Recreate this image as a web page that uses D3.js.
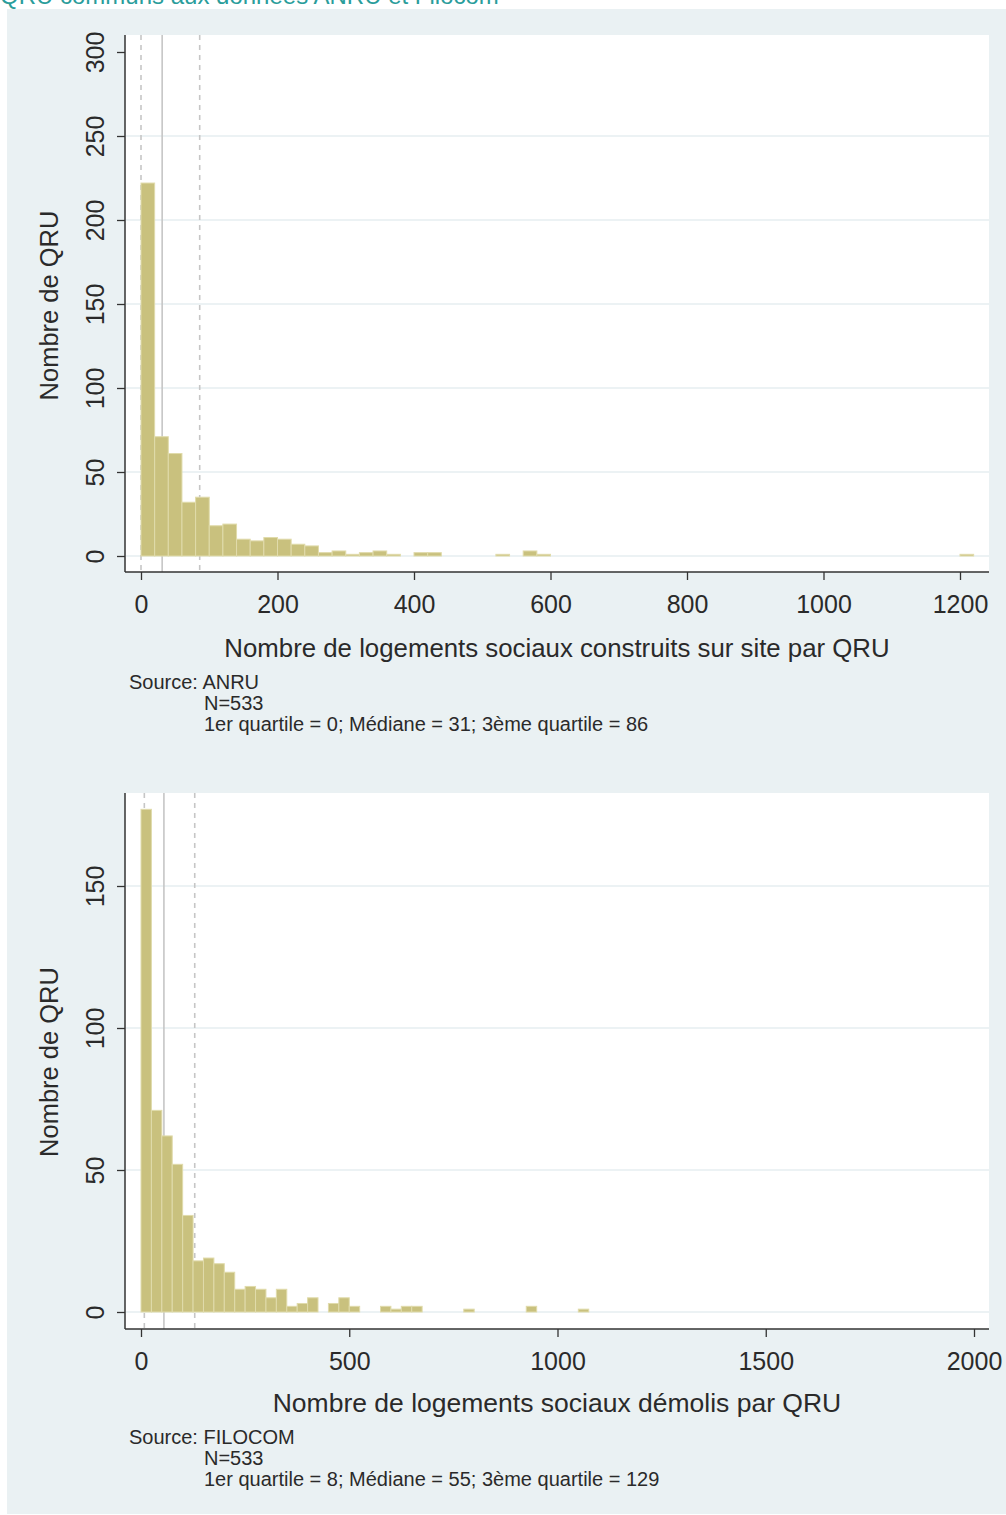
<!DOCTYPE html>
<html>
<head>
<meta charset="utf-8">
<script src="https://cdn.jsdelivr.net/npm/d3@7"></script>
<style>
  html, body { margin: 0; padding: 0; background: #ffffff; }
  svg { display: block; }
  text { font-family: "Liberation Sans", Arial, Helvetica, sans-serif; }
</style>
</head>
<body>
<svg id="chart" width="1006" height="1515"></svg>
<script>
// ---------- DATA ----------
const pageTitle = "QRU communs aux données ANRU et Filocom";

// Panel 1 : logements sociaux construits (bins of 20)
const topBinWidth = 20;
const topCounts = [222, 71, 61, 32, 35, 18, 19, 10, 9, 11,
                   10, 7, 6, 2, 3, 1, 2, 3, 1, 0,
                   2, 2, 0, 0, 0, 0, 1, 0, 3, 1,
                   0, 0, 0, 0, 0, 0, 0, 0, 0, 0,
                   0, 0, 0, 0, 0, 0, 0, 0, 0, 0,
                   0, 0, 0, 0, 0, 0, 0, 0, 0, 0,
                   1];
const topXTicks = [0, 200, 400, 600, 800, 1000, 1200];
const topYTicks = [0, 50, 100, 150, 200, 250, 300];
const topQuartiles = [0, 31, 86];   // Q1, median, Q3
const topXTitle = "Nombre de logements sociaux construits sur site par QRU";
const topNotes = ["Source: ANRU", "N=533", "1er quartile = 0; Médiane = 31; 3ème quartile = 86"];

// Panel 2 : logements sociaux démolis (bins of 25)
const botBinWidth = 25;
const botCounts = [177, 71, 62, 52, 34, 18, 19, 17, 14, 8,
                   9, 8, 5, 8, 2, 3, 5, 0, 3, 5,
                   2, 0, 0, 2, 1, 2, 2, 0, 0, 0,
                   0, 1, 0, 0, 0, 0, 0, 2, 0, 0,
                   0, 0, 1];
const botXTicks = [0, 500, 1000, 1500, 2000];
const botYTicks = [0, 50, 100, 150];
const botQuartiles = [8, 55, 129];
const botXTitle = "Nombre de logements sociaux démolis par QRU";
const botNotes = ["Source: FILOCOM", "N=533", "1er quartile = 8; Médiane = 55; 3ème quartile = 129"];

const yTitle = "Nombre de QRU";

// ---------- STYLE ----------
const C = {
  outer: "#eaf1f3",
  plot: "#ffffff",
  grid: "#e6eef1",
  bar: "#c9c17e",
  barStroke: "#e0dbab",
  ref: "#c6c6c6",
  axis: "#333333",
  text: "#2a2a2a",
  title: "#2a9d9b"
};

const svg = d3.select("#chart");

// page title (cut at top, as in the source)
svg.append("text").attr("x", 0).attr("y", 4)
  .attr("font-size", 24).attr("fill", C.title).text(pageTitle);

// outer background
svg.append("rect").attr("x", 7).attr("y", 9).attr("width", 999).attr("height", 1505)
  .attr("fill", C.outer);

function panel(cfg) {
  const g = svg.append("g");
  const x = d3.scaleLinear().domain(cfg.xDomain).range(cfg.xRange);
  const y = d3.scaleLinear().domain(cfg.yDomain).range(cfg.yRange);
  const L = cfg.plotLeft, R = cfg.plotRight, T = cfg.plotTop, B = cfg.plotBottom;

  // plot region
  g.append("rect").attr("x", L).attr("y", T).attr("width", R - L).attr("height", B - T)
    .attr("fill", C.plot);

  // grid lines
  g.selectAll(".grid").data(cfg.gridTicks).enter().append("line")
    .attr("x1", L + 1).attr("x2", R)
    .attr("y1", d => y(d)).attr("y2", d => y(d))
    .attr("stroke", C.grid).attr("stroke-width", 1.5);

  // reference lines (quartiles dashed, median solid) - drawn beneath bars
  g.selectAll(".ref").data(cfg.quartiles).enter().append("line")
    .attr("x1", d => x(d)).attr("x2", d => x(d))
    .attr("y1", T).attr("y2", B)
    .attr("stroke", C.ref).attr("stroke-width", 1.6)
    .attr("stroke-dasharray", (d, i) => i === 1 ? null : "5,5");

  // bars
  const bins = cfg.counts.map((c, i) => ({x0: i * cfg.binWidth, x1: (i + 1) * cfg.binWidth, n: c}))
    .filter(b => b.n > 0);
  g.selectAll(".bar").data(bins).enter().append("rect")
    .attr("x", d => x(d.x0))
    .attr("width", d => x(d.x1) - x(d.x0))
    .attr("y", d => y(d.n))
    .attr("height", d => y(0) - y(d.n))
    .attr("fill", C.bar)
    .attr("stroke", C.barStroke).attr("stroke-width", 1);

  // axes
  const xAxis = d3.axisBottom(x).tickValues(cfg.xTicks).tickSize(8).tickPadding(15)
    .tickFormat(d3.format("d"));
  const gx = g.append("g").attr("transform", `translate(0,${B})`).call(xAxis);
  gx.select(".domain").attr("d", `M${L},0H${R}`).attr("stroke", C.axis).attr("stroke-width", 1.5);
  gx.selectAll(".tick line").attr("stroke", C.axis).attr("stroke-width", 1.3);
  gx.selectAll(".tick text").attr("font-size", 25).attr("fill", C.text)
    .attr("font-family", "Liberation Sans, Arial, sans-serif");

  const yAxis = d3.axisLeft(y).tickValues(cfg.yTicks).tickSize(8).tickFormat(d3.format("d"));
  const gy = g.append("g").attr("transform", `translate(${L},0)`).call(yAxis);
  gy.select(".domain").attr("d", `M0,${T}V${B}`).attr("stroke", C.axis).attr("stroke-width", 1.5);
  gy.selectAll(".tick line").attr("stroke", C.axis).attr("stroke-width", 1.3);
  gy.selectAll(".tick text")
    .attr("x", null).attr("dy", null)
    .attr("transform", "translate(-21,0) rotate(-90)")
    .attr("text-anchor", "middle")
    .attr("font-size", 25).attr("fill", C.text)
    .attr("font-family", "Liberation Sans, Arial, sans-serif");

  // axis titles
  g.append("text")
    .attr("transform", `translate(58,${(T + B) / 2 + cfg.yTitleShift}) rotate(-90)`)
    .attr("text-anchor", "middle").attr("font-size", 25.5).attr("fill", C.text)
    .text(yTitle);
  g.append("text").attr("x", 557).attr("y", cfg.xTitleY)
    .attr("text-anchor", "middle").attr("font-size", cfg.xTitleSize).attr("fill", C.text)
    .text(cfg.xTitle);

  // notes
  cfg.notes.forEach((t, i) => {
    g.append("text").attr("x", i === 0 ? 129 : 204).attr("y", cfg.notesY + i * 21)
      .attr("font-size", 20).attr("fill", C.text).text(t);
  });
}

panel({
  counts: topCounts, binWidth: topBinWidth,
  xDomain: [0, 1200], xRange: [141, 960],
  yDomain: [0, 300], yRange: [556, 52],
  plotLeft: 125, plotRight: 989, plotTop: 35, plotBottom: 572,
  gridTicks: [0, 50, 100, 150, 200, 250],
  xTicks: topXTicks, yTicks: topYTicks, quartiles: topQuartiles,
  xTitle: topXTitle, xTitleY: 657, xTitleSize: 25.8, yTitleShift: 2,
  notes: topNotes, notesY: 689
});

panel({
  counts: botCounts, binWidth: botBinWidth,
  xDomain: [0, 2000], xRange: [141, 974],
  yDomain: [0, 150], yRange: [1312, 886],
  plotLeft: 125, plotRight: 989, plotTop: 793, plotBottom: 1329,
  gridTicks: [0, 50, 100, 150],
  xTicks: botXTicks, yTicks: botYTicks, quartiles: botQuartiles,
  xTitle: botXTitle, xTitleY: 1412, xTitleSize: 26.5, yTitleShift: 1,
  notes: botNotes, notesY: 1444
});
</script>
</body>
</html>
